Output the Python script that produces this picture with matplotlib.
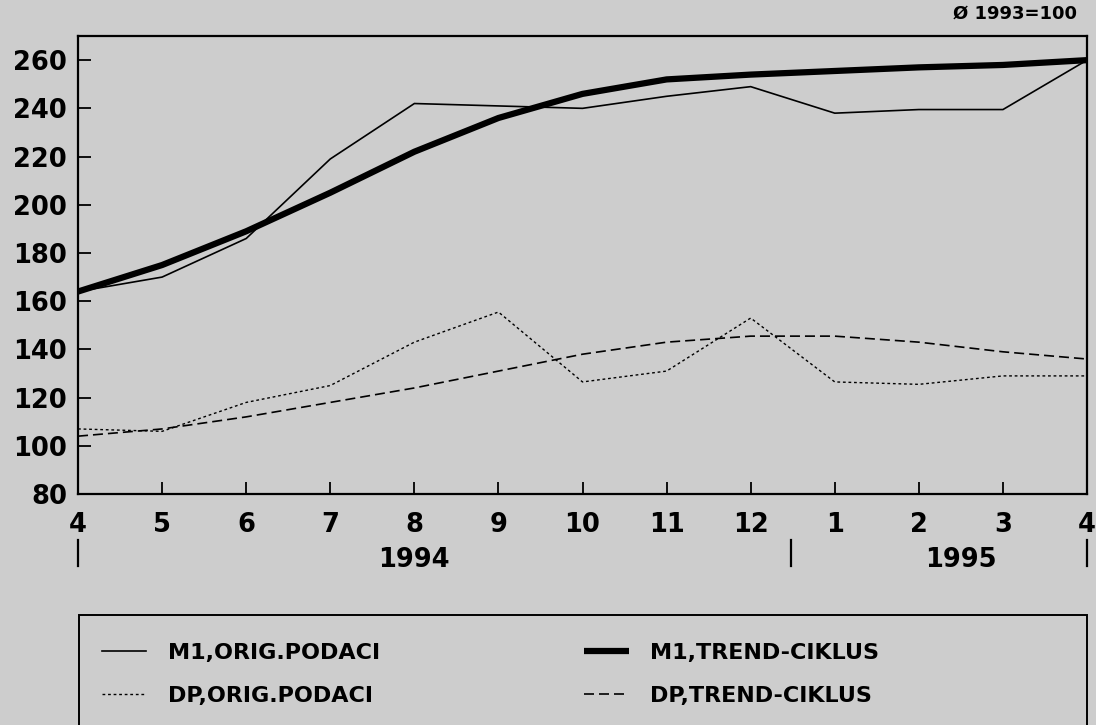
import matplotlib
matplotlib.use("Agg")
import matplotlib.pyplot as plt
import matplotlib.transforms as mtransforms
from matplotlib.patches import Rectangle

plt.rcParams['font.family'] = ['DejaVu Sans']
plt.rcParams['font.weight'] = 'bold'

months = ["4", "5", "6", "7", "8", "9", "10", "11", "12", "1", "2", "3", "4"]
m1_orig = [164, 170, 186, 219, 242, 241, 240, 245, 249, 238, 239.5, 239.5, 260]
m1_trend = [164, 175, 189, 205, 222, 236, 246, 252, 254, 255.5, 257, 258, 260]
dp_orig = [107, 106, 118, 125, 143, 155.5, 126.5, 131, 153, 126.5, 125.5, 129, 129]
dp_trend = [104, 107, 112, 118, 124, 131, 138, 143, 145.5, 145.5, 143, 139, 136]
years = ["1994", "1995"]
labels = ["M1,ORIG.PODACI", "DP,ORIG.PODACI", "M1,TREND-CIKLUS", "DP,TREND-CIKLUS"]
yticks = [80, 100, 120, 140, 160, 180, 200, 220, 240, 260]

W, H = 1096, 725
bg = '#cdcdcd'
fig = plt.figure(figsize=(W / 100, H / 100), dpi=100, facecolor=bg)
ax = fig.add_axes([0.0712, 0.3186, 0.9206, 0.6317])
ax.set_facecolor(bg)

x = list(range(len(months)))
l1, = ax.plot(x, m1_orig, color='black', lw=1.2, solid_joinstyle='miter')
l2, = ax.plot(x, dp_orig, color='black', lw=1.0, ls=(0, (2, 2)))
l3, = ax.plot(x, m1_trend, color='black', lw=4.5, solid_capstyle='butt')
l4, = ax.plot(x, dp_trend, color='black', lw=1.2, ls=(0, (6, 3)))

ax.set_xlim(0, 12)
ax.set_ylim(80, 270)
ax.set_yticks(yticks)
ax.set_xticks(x)
ax.set_xticklabels(months)
ax.tick_params(axis='both', direction='in', length=9, width=1.3, labelsize=18.5, colors='black')
ax.tick_params(axis='x', pad=13)
ax.tick_params(axis='y', pad=8)
for s in ax.spines.values():
    s.set_linewidth(1.6)
    s.set_color('black')

trans = mtransforms.blended_transform_factory(ax.transData, ax.transAxes)
for xs in [0, 8.48, 12]:
    ax.plot([xs, xs], [-0.100, -0.158], transform=trans, color='black', lw=1.6, clip_on=False)
ax.text(4.0, -0.143, years[0], transform=trans, ha='center', va='center', fontsize=18.5, fontweight='bold')
ax.text(10.5, -0.143, years[1], transform=trans, ha='center', va='center', fontsize=18.5, fontweight='bold')

fig.text(1077 / W, 1 - 14 / H, "Ø 1993=100", ha='right', va='center', fontsize=13, fontweight='bold')

# legend box
fig.patches.append(Rectangle((79 / W, -0.05), (1087 - 79) / W, 0.05 + (H - 615) / H,
                             transform=fig.transFigure, facecolor='none', edgecolor='black',
                             lw=1.4, zorder=1))

leg = fig.legend([l1, l2, l3, l4], labels, ncol=2, loc='upper left',
                 bbox_to_anchor=(102 / W, 1 - 643 / H),
                 frameon=False, prop={'size': 16, 'weight': 'bold'},
                 handlelength=2.0, handletextpad=0.95, columnspacing=9.2,
                 borderpad=0.0, labelspacing=1.03, borderaxespad=0.0)

fig.savefig("out.png", dpi=100, facecolor=bg)
